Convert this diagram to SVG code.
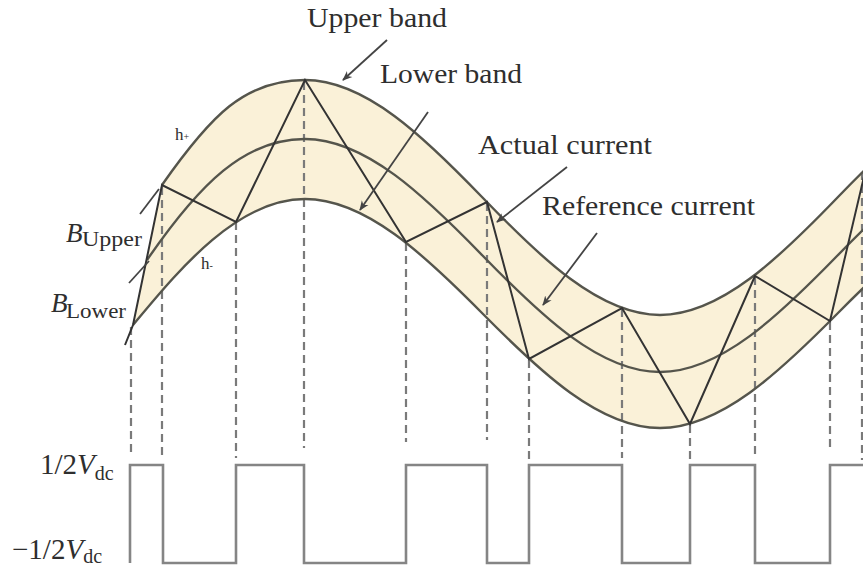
<svg xmlns="http://www.w3.org/2000/svg" width="863" height="571" viewBox="0 0 863 571">
<style>
.t{font-family:"Liberation Serif","Times New Roman",serif;fill:#2e2e2e;}
.band{fill:none;stroke:#55554c;stroke-width:2.4;}
.cur{fill:none;stroke:#333;stroke-width:2;stroke-linejoin:miter;}
.dash{stroke:#7a7a7a;stroke-width:2.2;stroke-dasharray:8 5;fill:none;}
.sq{fill:none;stroke:#858585;stroke-width:2.6;}
.ptr{stroke:#444;stroke-width:1.8;fill:none;}
</style>
<defs>
<marker id="ah" viewBox="0 0 10 10" refX="9" refY="5" markerWidth="10" markerHeight="10" markerUnits="userSpaceOnUse" orient="auto">
<path d="M0,1 L10,5 L0,9 L3,5 Z" fill="#444"/>
</marker>
</defs>
<rect width="863" height="571" fill="#fff"/>

<g id="band-fill">
<path fill="#faf1d8" stroke="none" d="M162,185 C211,115 245,80 305,80 C365.4,80 424.6,137.3 482.5,197.5 C540.4,257.7 599.6,315 660,315 C720.4,315 779.6,257.7 837.5,197.5 C895.4,137.3 954.6,80 1015,80 L1015,199 C954.6,199 895.4,254.9 837.5,313.5 C779.6,372.1 720.4,428 660,428 C599.6,428 540.4,372.1 482.5,313.5 C424.6,254.9 365.4,199 305,199 C235,199 175,275 133,325 Z"/>
</g>

<g id="dashed-lines">
<line class="dash" x1="131" y1="327" x2="131" y2="455"/>
<line class="dash" x1="162" y1="187" x2="162" y2="460"/>
<line class="dash" x1="236" y1="222" x2="236" y2="458"/>
<line class="dash" x1="304" y1="82" x2="304" y2="448"/>
<line class="dash" x1="406" y1="243" x2="406" y2="442"/>
<line class="dash" x1="487" y1="203" x2="487" y2="440"/>
<line class="dash" x1="529" y1="360" x2="529" y2="462"/>
<line class="dash" x1="622" y1="309" x2="622" y2="458"/>
<line class="dash" x1="690" y1="425" x2="690" y2="463"/>
<line class="dash" x1="755" y1="277" x2="755" y2="455"/>
<line class="dash" x1="830" y1="322" x2="830" y2="452"/>
<line class="dash" x1="862" y1="172" x2="862" y2="460"/>
</g>

<g id="upper-band">
<path class="band" d="M162,185 C211,115 245,80 305,80 C365.4,80 424.6,137.3 482.5,197.5 C540.4,257.7 599.6,315 660,315 C720.4,315 779.6,257.7 837.5,197.5 C895.4,137.3 954.6,80 1015,80"/>
</g>
<g id="reference-current">
<path class="band" d="M147,260 C200,183 245,139 305,139 C365.4,139 424.6,195.9 482.5,255.5 C540.4,315.1 599.6,372 660,372 C720.4,372 779.6,315.1 837.5,255.5 C895.4,195.9 954.6,139 1015,139"/>
</g>
<g id="lower-band">
<path class="band" d="M133,325 C175,275 235,199 305,199 C365.4,199 424.6,254.9 482.5,313.5 C540.4,372.1 599.6,428 660,428 C720.4,428 779.6,372.1 837.5,313.5 C895.4,254.9 954.6,199 1015,199"/>
</g>

<g id="actual-current">
<polyline class="cur" points="125,345 133,325 162,185 236,222 305,80 406,242 487,202 529,359 622,308 690,424 755,276 830,321 866,168"/>
</g>

<g id="square-wave">
<path class="sq" d="M130,563 V465 H163 V563 H236 V465 H304 V563 H406 V465 H487 V563 H529 V465 H622 V563 H690 V465 H755 V563 H830 V465 H863"/>
</g>

<g id="connectors">
<line class="ptr" x1="387" y1="40" x2="343" y2="80" marker-end="url(#ah)"/>
<line class="ptr" x1="428" y1="112" x2="360" y2="210" marker-end="url(#ah)"/>
<line class="ptr" x1="567" y1="167" x2="497" y2="222" marker-end="url(#ah)"/>
<line class="ptr" x1="597" y1="233" x2="543" y2="305" marker-end="url(#ah)"/>
<line class="ptr" x1="140" y1="214" x2="159" y2="189"/>
<line class="ptr" x1="129" y1="283" x2="149" y2="261"/>
</g>

<g id="labels">
<text class="t" x="307" y="27" font-size="28" textLength="140" lengthAdjust="spacingAndGlyphs">Upper band</text>
<text class="t" x="380" y="83" font-size="28" textLength="142" lengthAdjust="spacingAndGlyphs">Lower band</text>
<text class="t" x="478" y="154" font-size="28" textLength="174" lengthAdjust="spacingAndGlyphs">Actual current</text>
<text class="t" x="542" y="215" font-size="28" textLength="213" lengthAdjust="spacingAndGlyphs">Reference current</text>
<text class="t" x="66" y="242" font-size="27" font-style="italic">B</text>
<text class="t" x="82" y="246" font-size="22" textLength="60" lengthAdjust="spacingAndGlyphs">Upper</text>
<text class="t" x="51" y="312" font-size="27" font-style="italic">B</text>
<text class="t" x="66" y="318" font-size="22" textLength="60" lengthAdjust="spacingAndGlyphs">Lower</text>
<text class="t" x="175" y="140" font-size="17">h<tspan font-size="10">+</tspan></text>
<text class="t" x="201" y="269" font-size="17">h<tspan font-size="10">-</tspan></text>
<text class="t" x="40" y="474" font-size="29">1/2<tspan font-style="italic">V</tspan><tspan font-size="20" dy="6">dc</tspan></text>
<text class="t" x="12" y="559" font-size="29">−1/2<tspan font-style="italic">V</tspan><tspan font-size="20" dy="4">dc</tspan></text>
</g>
</svg>
